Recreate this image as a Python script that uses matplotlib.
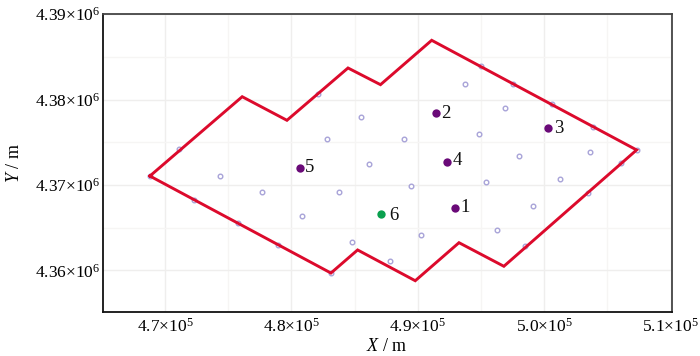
import matplotlib
matplotlib.use("Agg")
import matplotlib.pyplot as plt

plt.rcParams['font.family'] = ['Liberation Serif', 'DejaVu Serif']
plt.rcParams['mathtext.fontset'] = 'custom'
plt.rcParams['mathtext.rm'] = 'Liberation Serif'
plt.rcParams['mathtext.it'] = 'Liberation Serif:italic'
plt.rcParams['mathtext.bf'] = 'Liberation Serif:bold'

boundary_x = [468810, 476110, 479650, 484480, 487050, 491100, 507310,
              496810, 493260, 489800, 485240, 483130, 468810]
boundary_y = [4371050, 4380330, 4377570, 4383690, 4381740, 4386930, 4374100,
              4360490, 4363250, 4358800, 4362400, 4359700, 4371050]

station_x = [468810, 471150, 474350, 477700, 480840, 483790, 472320, 475770,
             478960, 483130, 484790, 487820, 490230, 489480, 486140, 488930,
             485480, 482790, 482100, 493730, 494970, 497550, 500590, 503880,
             507360, 496890, 494840, 497980, 503590, 506070, 501270, 495370,
             503440, 499130, 496260, 498480]
station_y = [4371050, 4374180, 4371090, 4369180, 4366370, 4369220, 4368210, 4365520,
             4362980, 4359700, 4363370, 4361140, 4364190, 4369850, 4372490, 4375350,
             4377960, 4375350, 4380680, 4381780, 4383890, 4381850, 4379480, 4376790,
             4374130, 4379010, 4375970, 4373360, 4373860, 4372610, 4370740, 4370390,
             4369060, 4367580, 4364730, 4362830]

well_labels = ['1', '2', '3', '4', '5', '6']
well_x = [492960, 491440, 500320, 492280, 480650, 487060]
well_y = [4367340, 4378390, 4376630, 4372730, 4372020, 4366570]
well_colors = ['#6a0a78', '#6a0a78', '#6a0a78', '#6a0a78', '#6a0a78', '#0aa04e']
label_dx = [4, 4, 4, 4, 4, 6]
label_dy = [0, 0, 0, 1, 0, -1]

xticks = [470000, 480000, 490000, 500000, 510000]
xticklabels = [r'4.7$\times$10$^{5}$', r'4.8$\times$10$^{5}$', r'4.9$\times$10$^{5}$',
               r'5.0$\times$10$^{5}$', r'5.1$\times$10$^{5}$']
yticks = [4360000, 4370000, 4380000, 4390000]
yticklabels = [r'4.36$\times$10$^{6}$', r'4.37$\times$10$^{6}$',
               r'4.38$\times$10$^{6}$', r'4.39$\times$10$^{6}$']
xminor = [475000, 485000, 495000, 505000]
yminor = [4365000, 4375000, 4385000]

fig = plt.figure(figsize=(7.0, 3.56), dpi=100)
ax = fig.add_axes([102.5/700, 1-312.3/356, (671.5-102.5)/700, (312.3-14)/356])
ax.set_xlim(465060, 510070)
ax.set_ylim(4355106, 4390007)

ax.set_xticks(xticks)
ax.set_xticklabels(xticklabels, fontsize=12.5)
ax.set_yticks(yticks)
ax.set_yticklabels(yticklabels, fontsize=12.5)
ax.set_xticks(xminor, minor=True)
ax.set_yticks(yminor, minor=True)
ax.tick_params(which='both', length=0)
ax.tick_params(axis='x', pad=4)
ax.tick_params(axis='y', pad=1.5)
ax.grid(True, which='major', color='#efeeed', lw=1.0)
ax.grid(True, which='minor', color='#f6f5f4', lw=1.0)
ax.set_axisbelow(True)

for name, col in [('left', '#111111'), ('bottom', '#111111'),
                  ('top', '#444444'), ('right', '#444444')]:
    ax.spines[name].set_color(col)
    ax.spines[name].set_linewidth(1.3)

ax.scatter(station_x, station_y, s=11, facecolors='white',
           edgecolors='#a8a3d8', linewidths=1.0, zorder=2)
ax.plot(boundary_x, boundary_y, color='#dc0a2c', lw=2.1, zorder=3,
        solid_joinstyle='miter')

for lab, x, y, c, dx, dy in zip(well_labels, well_x, well_y, well_colors, label_dx, label_dy):
    ax.scatter([x], [y], s=36, color=c, linewidths=0, zorder=4)
    ax.annotate(lab, (x, y), xytext=(dx, dy), textcoords='offset points',
                ha='left', va='center', fontsize=13.5, color='#111111', zorder=5)

ax.set_xlabel(r'$X$ / m', fontsize=13, labelpad=1.5)
ax.set_ylabel(r'$Y$ / m', fontsize=13, labelpad=9)

fig.savefig('out.png', dpi=100)
